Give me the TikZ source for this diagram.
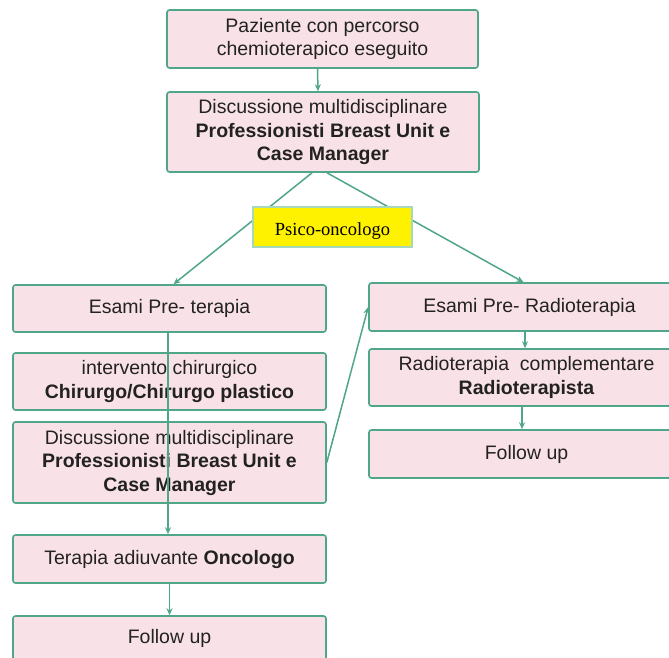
\documentclass[tikz,border=0pt]{standalone}
\usepackage{fontspec}
\setmainfont{Liberation Sans}
\newfontfamily\timesfont{Liberation Serif}
\usetikzlibrary{arrows.meta}
\definecolor{edgegreen}{HTML}{4FA688}
\definecolor{boxpink}{HTML}{F9E2E7}
\definecolor{txtdark}{HTML}{222222}
\definecolor{yelborder}{HTML}{A8D8BC}
\tikzset{
  flowbox/.style={draw=edgegreen, fill=boxpink, rounded corners=2.5pt, line width=1.6pt,
    align=center, inner sep=0pt, text=txtdark, font=\fontsize{19.5}{23.5}\selectfont},
  notebox/.style={draw=yelborder, fill=yellow, line width=1.2pt, inner sep=0pt,
    text height=19pt, text depth=3pt,
    font=\timesfont\fontsize{18.5}{20}\selectfont, text=black},
  arr/.style={draw=edgegreen, line width=1.5pt, -{Stealth[length=7pt,width=6pt]}},
}
\begin{document}
\begin{tikzpicture}[x=1pt,y=-1pt]
\useasboundingbox (0,0) rectangle (669,657);
\fill[white] (0,0) rectangle (669,657);
\clip (0,0) rectangle (669,657);

\node[flowbox, minimum width=311pt, minimum height=58pt] (b1) at (322.5,39)
  {Paziente con percorso\\chemioterapico eseguito};
\node[flowbox, minimum width=312pt, minimum height=80pt] (b2) at (323,132)
  {Discussione multidisciplinare\\\textbf{Professionisti Breast Unit e}\\\textbf{Case Manager}};

\node[flowbox, minimum width=313pt, minimum height=47pt] (l1) at (169.5,308.5) {Esami Pre- terapia};
\node[flowbox, minimum width=313pt, minimum height=57pt] (l2) at (169.5,381.5)
  {intervento chirurgico\\\textbf{Chirurgo/Chirurgo plastico}};
\node[flowbox, minimum width=313pt, minimum height=81pt] (l3) at (169.5,462.5)
  {Discussione multidisciplinare\\\textbf{Professionisti Breast Unit e}\\\textbf{Case Manager}};
\node[flowbox, minimum width=313pt, minimum height=48pt] (l4) at (169.5,559)
  {Terapia adiuvante \textbf{Oncologo}};
\node[flowbox, minimum width=313pt, minimum height=44pt] (l5) at (169.5,638) {Follow up};

\node[flowbox, minimum width=321pt, minimum height=48pt] (r1) at (529.5,307) {Esami Pre- Radioterapia};
\node[flowbox, minimum width=321pt, minimum height=57pt] (r2) at (529.5,377.5)
  {\hspace*{-6pt}Radioterapia\ \ complementare\\\hspace*{-6pt}\textbf{Radioterapista}};
\node[flowbox, minimum width=321pt, minimum height=48pt] (r3) at (529.5,454) {\hspace*{-6pt}Follow up};

\draw[arr] ([xshift=-5pt]b1.south) -- ([xshift=-5pt]b2.north);
\draw[arr] ([xshift=-11pt]b2.south) -- ([xshift=4pt]l1.north);
\draw[arr] ([xshift=4pt]b2.south) -- ([xshift=-6pt]r1.north);

\node[notebox, minimum width=159pt, minimum height=40pt] (psy) at (332.5,227) {Psico-oncologo};

\draw[arr] ([xshift=-1.5pt]l1.south) -- ([xshift=-1.5pt]l4.north);
\draw[arr] (l4.south) -- (l5.north);
\draw[arr] (l3.east) -- (r1.west);
\draw[arr] ([xshift=-4.5pt]r1.south) -- ([xshift=-4.5pt]r2.north);
\draw[arr] ([xshift=-7.5pt]r2.south) -- ([xshift=-7.5pt]r3.north);
\end{tikzpicture}
\end{document}
